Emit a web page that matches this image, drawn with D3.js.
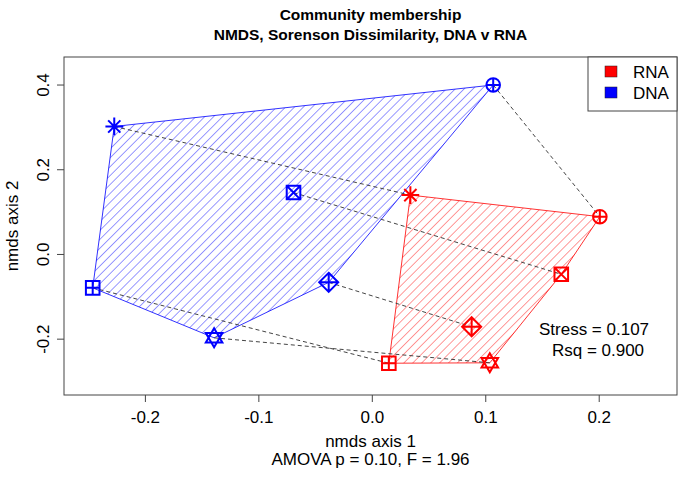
<!DOCTYPE html>
<html>
<head>
<meta charset="utf-8">
<script src="https://cdn.jsdelivr.net/npm/d3@7"></script>
<style>
  body { margin: 0; background: #fff; }
  svg text { font-family: "Liberation Sans", Arial, sans-serif; fill: #000; }
</style>
</head>
<body>
<svg id="viz" width="680" height="477"></svg>
<script>
// sample order: asterisk, circle-plus, square-x, diamond-plus, square-plus, star
let shapes = ['asterisk', 'circlePlus', 'squareX', 'diamondPlus', 'squarePlus', 'star']
let dnaX = [-0.227, 0.107, -0.069, -0.038, -0.246, -0.139]
let dnaY = [0.301, 0.399, 0.145, -0.067, -0.080, -0.198]
let rnaX = [0.034, 0.201, 0.167, 0.088, 0.015, 0.104]
let rnaY = [0.139, 0.088, -0.048, -0.172, -0.258, -0.257]
let xTicks = [-0.2, -0.1, 0.0, 0.1, 0.2]
let yTicks = [-0.2, 0.0, 0.2, 0.4]
let groups = ['RNA', 'DNA']
let colors = {'RNA': '#ff0000', 'DNA': '#0000ff'}

const svg = d3.select('#viz')
const pLeft = 64, pRight = 677, pTop = 57, pBottom = 395

let x = d3.scaleLinear().domain([-0.2713, 0.269]).range([pLeft, pRight])
let y = d3.scaleLinear().domain([-0.333, 0.465]).range([pBottom, pTop])

let dna = dnaX.map((v, i) => [v, dnaY[i], shapes[i]])
let rna = rnaX.map((v, i) => [v, rnaY[i], shapes[i]])

// hatch patterns
let defs = svg.append('defs')
groups.forEach(g => {
  defs.append('pattern')
    .attr('id', 'hatch' + g)
    .attr('patternUnits', 'userSpaceOnUse')
    .attr('width', 6.3)
    .attr('height', 6.3)
    .attr('patternTransform', 'rotate(45)')
    .append('line')
    .attr('x1', 0).attr('y1', 0)
    .attr('x2', 0).attr('y2', 6.3)
    .attr('stroke', colors[g])
    .attr('stroke-width', 1)
    .attr('stroke-opacity', 0.8)
})

// convex hulls
let hullGroup = svg.append('g')
;[['DNA', dna], ['RNA', rna]].forEach(([g, pts]) => {
  let hull = d3.polygonHull(pts.map(d => [x(d[0]), y(d[1])]))
  hullGroup.append('path')
    .attr('d', 'M' + hull.join('L') + 'Z')
    .attr('fill', 'url(#hatch' + g + ')')
    .attr('stroke', colors[g])
    .attr('stroke-opacity', 0.8)
    .attr('stroke-width', 1)
})

// dashed pair lines
svg.append('g').selectAll('line')
  .data(dna)
  .enter()
  .append('line')
  .attr('x1', d => x(d[0]))
  .attr('y1', d => y(d[1]))
  .attr('x2', (d, i) => x(rna[i][0]))
  .attr('y2', (d, i) => y(rna[i][1]))
  .attr('stroke', '#444')
  .attr('stroke-width', 1)
  .attr('stroke-dasharray', '4,3')

// R style point symbols
const symbolPath = (type, r) => {
  let p = d3.path()
  if (type == 'asterisk') {
    let a = r * 0.9, b = r * 1.3
    p.moveTo(-b, 0); p.lineTo(b, 0)
    p.moveTo(0, -b); p.lineTo(0, b)
    p.moveTo(-a, -a); p.lineTo(a, a)
    p.moveTo(-a, a); p.lineTo(a, -a)
  } else if (type == 'circlePlus') {
    p.moveTo(r, 0); p.arc(0, 0, r, 0, 2 * Math.PI)
    p.moveTo(-r, 0); p.lineTo(r, 0)
    p.moveTo(0, -r); p.lineTo(0, r)
  } else if (type == 'squareX') {
    p.rect(-r, -r, 2 * r, 2 * r)
    p.moveTo(-r, -r); p.lineTo(r, r)
    p.moveTo(-r, r); p.lineTo(r, -r)
  } else if (type == 'squarePlus') {
    p.rect(-r, -r, 2 * r, 2 * r)
    p.moveTo(-r, 0); p.lineTo(r, 0)
    p.moveTo(0, -r); p.lineTo(0, r)
  } else if (type == 'diamondPlus') {
    let d = r * 1.4
    p.moveTo(0, -d); p.lineTo(d, 0); p.lineTo(0, d); p.lineTo(-d, 0); p.closePath()
    p.moveTo(-d, 0); p.lineTo(d, 0)
    p.moveTo(0, -d); p.lineTo(0, d)
  } else if (type == 'star') {
    let h = r * 1.4
    p.moveTo(0, -h); p.lineTo(h * 0.87, h * 0.5); p.lineTo(-h * 0.87, h * 0.5); p.closePath()
    p.moveTo(0, h); p.lineTo(h * 0.87, -h * 0.5); p.lineTo(-h * 0.87, -h * 0.5); p.closePath()
  }
  return p.toString()
}

;[['DNA', dna], ['RNA', rna]].forEach(([g, pts]) => {
  svg.append('g').selectAll('path')
    .data(pts)
    .enter()
    .append('path')
    .attr('transform', d => 'translate(' + x(d[0]) + ',' + y(d[1]) + ')')
    .attr('d', d => symbolPath(d[2], 6.8))
    .attr('fill', 'none')
    .attr('stroke', colors[g])
    .attr('stroke-width', 2)
})

// axes
const fmt = d => d.toFixed(1)
let xAxis = svg.append('g')
  .attr('transform', 'translate(0,' + pBottom + ')')
  .call(d3.axisBottom(x).tickValues(xTicks).tickFormat(fmt).tickSizeOuter(0).tickSize(7).tickPadding(9))
let yAxis = svg.append('g')
  .attr('transform', 'translate(' + pLeft + ',0)')
  .call(d3.axisLeft(y).tickValues(yTicks).tickFormat(fmt).tickSizeOuter(0).tickSize(7).tickPadding(9))
;[xAxis, yAxis].forEach(a => {
  a.select('.domain').remove()
  a.selectAll('.tick line').attr('stroke', '#444')
  a.selectAll('.tick text').style('font-size', '17px').attr('fill', '#000')
    .style('font-family', '"Liberation Sans", Arial, sans-serif')
})
yAxis.selectAll('.tick text')
  .attr('text-anchor', 'middle')
  .attr('transform', 'rotate(-90,-21,0)')
  .attr('x', -21).attr('dy', '0.35em').attr('y', 0)

// plot box
svg.append('rect')
  .attr('x', pLeft).attr('y', pTop)
  .attr('width', pRight - pLeft).attr('height', pBottom - pTop)
  .attr('fill', 'none').attr('stroke', '#444').attr('stroke-width', 1)

// titles
let cx = (pLeft + pRight) / 2
svg.append('text').attr('x', cx).attr('y', 20)
  .attr('text-anchor', 'middle').style('font-size', '15.5px').style('font-weight', 'bold')
  .text('Community membership')
svg.append('text').attr('x', cx).attr('y', 40)
  .attr('text-anchor', 'middle').style('font-size', '15.5px').style('font-weight', 'bold')
  .text('NMDS, Sorenson Dissimilarity, DNA v RNA')
svg.append('text').attr('x', cx).attr('y', 447)
  .attr('text-anchor', 'middle').style('font-size', '17px').text('nmds axis 1')
svg.append('text').attr('x', cx).attr('y', 465)
  .attr('text-anchor', 'middle').style('font-size', '17px').text('AMOVA p = 0.10, F = 1.96')
svg.append('text').attr('transform', 'translate(18,' + (pTop + pBottom) / 2 + ') rotate(-90)')
  .attr('text-anchor', 'middle').style('font-size', '17px').text('nmds axis 2')

// stress text
svg.append('text').attr('x', 594).attr('y', 335)
  .attr('text-anchor', 'middle').style('font-size', '17px').text('Stress = 0.107')
svg.append('text').attr('x', 598).attr('y', 356)
  .attr('text-anchor', 'middle').style('font-size', '17px').text('Rsq = 0.900')

// legend
let legend = svg.append('g')
legend.append('rect')
  .attr('x', 588).attr('y', pTop).attr('width', pRight - 588).attr('height', 54)
  .attr('fill', '#fff').attr('stroke', '#444')
legend.selectAll('.key')
  .data(groups)
  .enter()
  .append('rect')
  .attr('x', 605).attr('y', (d, i) => 66 + i * 21)
  .attr('width', 12).attr('height', 11)
  .attr('fill', d => colors[d]).attr('stroke', '#222').attr('stroke-width', 0.5)
legend.selectAll('.lab')
  .data(groups)
  .enter()
  .append('text')
  .attr('x', 633).attr('y', (d, i) => 78 + i * 21)
  .style('font-size', '17px')
  .text(d => d)
</script>
</body>
</html>
